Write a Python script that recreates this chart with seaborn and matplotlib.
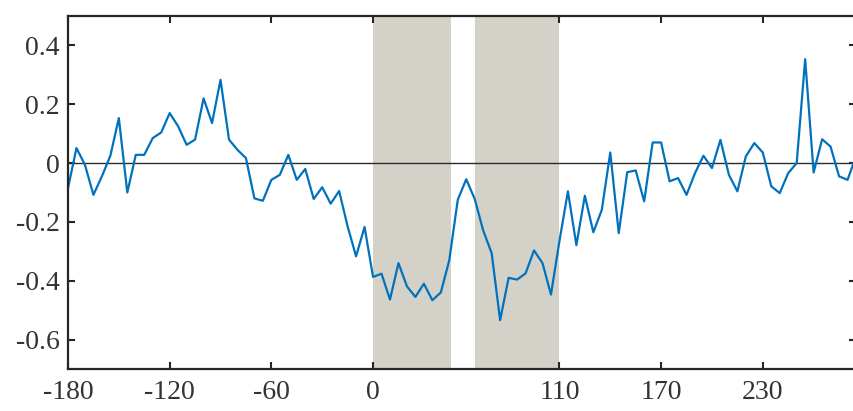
import numpy as np
import pandas as pd
import matplotlib
matplotlib.use("Agg")
import matplotlib.pyplot as plt
import seaborn as sns

# Lag positions (5-unit steps) and the correlation series
lags = list(range(-180, 290, 5))
values = [
    -0.085, 0.051, -0.006, -0.108, -0.045, 0.025, 0.153, -0.100, 0.028, 0.028,
    0.085, 0.104, 0.170, 0.125, 0.062, 0.080, 0.220, 0.136, 0.283, 0.080,
    0.045, 0.017, -0.120, -0.128, -0.057, -0.040, 0.028, -0.057, -0.020, -0.122,
    -0.082, -0.138, -0.095, -0.215, -0.317, -0.217, -0.387, -0.376, -0.464, -0.340,
    -0.419, -0.455, -0.410, -0.466, -0.440, -0.330, -0.125, -0.055, -0.122, -0.229,
    -0.306, -0.534, -0.390, -0.396, -0.375, -0.297, -0.340, -0.447, -0.265, -0.096,
    -0.279, -0.111, -0.235, -0.159, 0.036, -0.238, -0.031, -0.025, -0.130, 0.070,
    0.070, -0.062, -0.051, -0.108, -0.034, 0.025, -0.017, 0.079, -0.040, -0.096,
    0.023, 0.068, 0.036, -0.079, -0.102, -0.034, 0.000, 0.353, -0.032, 0.081,
    0.056, -0.045, -0.057, 0.023,
]

# Shaded windows
windows = [(0, 46), (60, 110)]

x_ticks = [-180, -120, -60, 0, 110, 170, 230]
y_ticks = [-0.6, -0.4, -0.2, 0, 0.2, 0.4]
y_tick_labels = ["-0.6", "-0.4", "-0.2", "0", "0.2", "0.4"]

df = pd.DataFrame({"lag": lags, "value": values})

sns.set_style("ticks")
plt.rcParams["font.family"] = ["Liberation Serif", "DejaVu Serif"]

text_col = "#333333"
fig = plt.figure(figsize=(8.54, 4.11), dpi=100)
ax = fig.add_axes([68 / 854, 1 - 369 / 411, 788 / 854, 353 / 411])

for lo, hi in windows:
    ax.axvspan(lo, hi, color="#D4D2C8", lw=0, zorder=0)

ax.axhline(0, color="#2b2b2b", lw=1.0, zorder=1.5)

sns.lineplot(data=df, x="lag", y="value", ax=ax, color="#0072BD",
             linewidth=1.6, zorder=2)

ax.set_xlim(-180, 285)
ax.set_ylim(-0.7, 0.5)
ax.set_xticks(x_ticks)
ax.set_xticklabels([str(t) for t in x_ticks])
ax.set_yticks(y_ticks)
ax.set_yticklabels(y_tick_labels)
ax.set_xlabel("")
ax.set_ylabel("")

for side in ["left", "right", "top", "bottom"]:
    ax.spines[side].set_visible(True)
    ax.spines[side].set_linewidth(1.6)
    ax.spines[side].set_color("#262626")

ax.tick_params(axis="both", direction="in", length=5, width=1.5,
               colors="#262626", labelcolor=text_col, labelsize=20,
               top=True, right=True)
ax.tick_params(axis="x", pad=8)
ax.tick_params(axis="y", pad=6)

fig.savefig("out.png", dpi=100)
